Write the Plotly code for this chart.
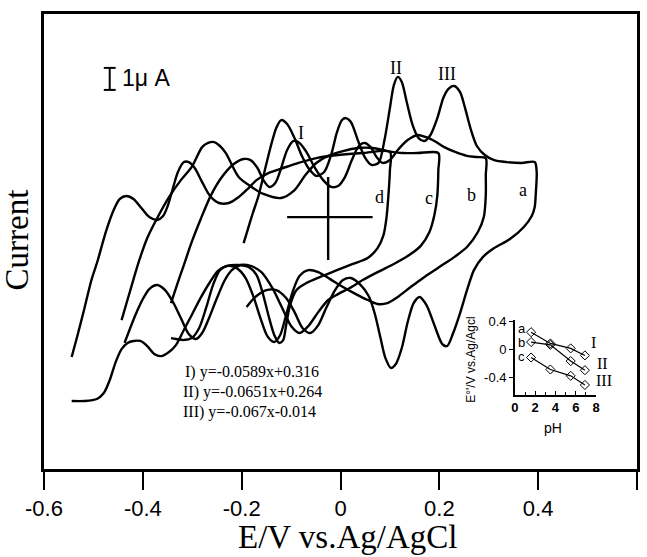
import plotly.graph_objects as go

# ---------------- main CV data (E in V vs Ag/AgCl, I in microampere, offset for clarity) ----
E_a = [-0.196,-0.188,-0.178,-0.166,-0.154,-0.142,-0.130,-0.120,-0.108,-0.093,-0.079,-0.065,-0.049,-0.033,-0.019,-0.007,0.003,0.011,0.021,0.035,0.049,0.063,0.077,0.089,0.100,0.108,0.116,0.124,0.134,0.146,0.158,0.170,0.182,0.196,0.208,0.218,0.230,0.242,0.252,0.264,0.276,0.292,0.311,0.337,0.367,0.393,
       0.397,0.395,0.393,0.387,0.371,0.343,0.311,0.288,0.270,0.256,0.242,0.228,0.216,0.206,0.190,0.174,0.160,0.148,0.136,0.124,0.112,0.102,0.091,0.081,0.069,0.057,0.041,0.021,0.005,-0.011,-0.029,-0.045,-0.061,-0.077,-0.093,-0.110,-0.130,-0.150,-0.170,-0.182,-0.190]
I_a = [2.59,3.18,3.91,4.73,5.82,6.91,7.82,8.18,8.0,7.36,6.59,6.0,5.64,5.82,6.59,7.64,8.18,8.27,8.09,7.27,6.5,6.14,6.23,7.27,8.73,9.77,10.14,9.91,9.0,7.95,7.36,7.23,7.5,8.27,9.18,9.59,9.73,9.45,8.73,7.73,7.0,6.59,6.36,6.27,6.23,6.27,
       5.82,4.77,4.23,3.82,3.32,2.77,2.36,1.95,1.36,0.45,-0.59,-1.5,-2.09,-2.0,-1.14,-0.23,0.14,-0.14,-1.0,-2.18,-2.91,-3.09,-2.64,-1.73,-0.59,0.18,0.68,1.0,0.91,0.45,-0.36,-1.14,-1.5,-1.27,-0.55,0.09,0.45,0.45,0.18,-0.09,-0.32]

E_b = [-0.343,-0.331,-0.317,-0.301,-0.282,-0.262,-0.240,-0.216,-0.196,-0.182,-0.168,-0.156,-0.144,-0.132,-0.120,-0.108,-0.095,-0.083,-0.069,-0.053,-0.035,-0.019,-0.005,0.009,0.023,0.037,0.049,0.061,0.073,0.085,0.100,0.116,0.136,0.156,0.172,0.190,0.210,0.232,0.256,0.276,0.294,
       0.294,0.294,0.290,0.278,0.256,0.230,0.200,0.170,0.142,0.116,0.095,0.075,0.055,0.031,0.005,-0.021,-0.045,-0.065,-0.083,-0.097,-0.110,-0.122,-0.134,-0.148,-0.162,-0.176,-0.192,-0.210,-0.228,-0.244,-0.258,-0.272,-0.286,-0.301,-0.317,-0.333,-0.343]
I_b = [-0.14,0.68,1.59,2.64,3.73,4.77,5.59,6.18,6.41,6.36,6.0,5.45,5.14,5.32,6.0,6.82,7.23,7.14,6.73,6.05,5.45,5.14,5.18,5.59,6.36,7.0,7.14,6.95,6.5,6.23,6.36,6.82,7.27,7.5,7.41,7.23,6.95,6.73,6.55,6.5,6.45,
       5.68,4.77,3.77,3.09,2.41,1.95,1.5,1.05,0.59,0.14,-0.14,-0.18,0.0,0.27,0.59,0.95,1.27,1.36,1.09,0.36,-0.68,-1.59,-1.91,-1.64,-0.82,0.14,1.0,1.45,1.55,1.36,0.68,-0.36,-1.27,-1.73,-1.82,-1.77,-1.73]

E_c = [-0.443,-0.427,-0.407,-0.391,-0.373,-0.347,-0.323,-0.301,-0.280,-0.268,-0.256,-0.244,-0.232,-0.206,-0.180,-0.156,-0.120,-0.093,-0.071,-0.049,-0.025,0.005,0.035,0.065,0.095,0.126,0.156,0.198,
       0.198,0.196,0.190,0.180,0.162,0.136,0.108,0.075,0.045,0.019,-0.005,-0.025,-0.045,-0.065,-0.083,-0.100,-0.118,-0.138,-0.160,-0.182,-0.202,-0.220,-0.234,-0.250,-0.266,-0.280,-0.292,-0.307,-0.323,-0.339,-0.355,-0.371,-0.387,-0.401,-0.415,-0.427,-0.437]
I_c = [-0.91,0.32,1.82,2.82,3.64,4.68,5.45,6.05,6.95,7.14,7.18,7.0,6.68,5.59,5.14,4.82,4.64,5.0,5.68,6.23,6.55,6.77,6.91,6.91,6.77,6.68,6.68,6.68,
       5.91,4.77,3.86,3.09,2.45,2.0,1.64,1.27,0.91,0.55,0.27,0.0,-0.55,-1.18,-1.5,-1.18,-0.36,0.55,1.27,1.55,1.59,1.36,0.91,0.09,-0.82,-1.5,-1.77,-1.55,-0.82,-0.09,0.45,0.68,0.5,0.0,-0.68,-1.36,-1.95]

E_d = [-0.544,-0.532,-0.518,-0.504,-0.491,-0.475,-0.459,-0.447,-0.433,-0.419,-0.403,-0.387,-0.371,-0.359,-0.349,-0.339,-0.329,-0.317,-0.307,-0.295,-0.280,-0.264,-0.246,-0.226,-0.206,-0.186,-0.170,-0.146,-0.116,-0.085,-0.049,-0.005,0.045,0.100,
       0.100,0.097,0.093,0.087,0.075,0.055,0.025,-0.011,-0.041,-0.069,-0.089,-0.102,-0.110,-0.116,-0.124,-0.134,-0.146,-0.158,-0.170,-0.186,-0.206,-0.230,-0.248,-0.264,-0.282,-0.301,-0.317,-0.333,-0.347,-0.363,-0.377,-0.391,-0.405,-0.419,-0.431,-0.443,-0.455,-0.467,-0.479,-0.493,-0.518,-0.544]
I_d = [-2.59,-1.59,-0.36,0.91,1.82,3.09,4.09,4.59,4.73,4.59,4.18,3.77,3.64,3.82,4.32,5.09,5.82,6.27,6.27,6.0,5.36,4.73,4.41,4.41,4.68,5.09,5.45,5.77,6.0,6.23,6.45,6.59,6.68,6.73,
       5.91,4.77,3.73,2.95,2.36,1.91,1.64,1.32,1.05,0.77,0.45,-0.23,-1.14,-1.82,-1.95,-1.59,-0.68,0.36,1.14,1.5,1.59,1.55,1.32,0.82,0.14,-0.68,-1.36,-2.05,-2.36,-2.55,-2.45,-2.09,-1.86,-1.86,-1.95,-2.23,-2.82,-3.64,-4.23,-4.5,-4.59,-4.59]

# scale bar (1 uA) and reference cross
bar_E = [-0.479, -0.455, None, -0.467, -0.467, None, -0.479, -0.455]
bar_I = [10.55, 10.55, None, 10.55, 9.55, None, 9.55, 9.55]
cross_E = [-0.025, -0.025, None, -0.108, 0.065]
cross_I = [5.59, 1.82, None, 3.77, 3.77]

x_ticks = [-0.6, -0.4, -0.2, 0, 0.2, 0.4, 0.6]
x_tick_text = ['-0.6', '-0.4', '-0.2', '0', '0.2', '0.4', '0.6']

curve_labels = ['a', 'b', 'c', 'd']
curve_label_E = [0.369, 0.266, 0.180, 0.079]
curve_label_I = [5.0, 4.77, 4.64, 4.68]
peak_labels = ['I', 'II', 'III']
peak_label_E = [-0.079, 0.112, 0.216]
peak_label_I = [7.59, 10.55, 10.27]

equations = ['I) y=-0.0589x+0.316', 'II) y=-0.0651x+0.264', 'III) y=-0.067x-0.014']
eq_E = [-0.317, -0.321, -0.321]
eq_I = [-3.27, -4.18, -5.09]

# ---------------- inset data ----------------
pH = [1.6, 3.5, 5.5, 6.9]
E0_I = [0.25, 0.09, 0.02, -0.08]
E0_II = [0.11, 0.07, -0.16, -0.29]
E0_III = [-0.11, -0.28, -0.37, -0.50]

SERIF = "Liberation Serif"
SANS = "Liberation Sans"
LW = 2.4

fig = go.Figure()
for E, I in [(E_a, I_a), (E_b, I_b), (E_c, I_c), (E_d, I_d)]:
    fig.add_trace(go.Scatter(x=E, y=I, mode='lines',
                             line=dict(color='black', width=LW, shape='spline', smoothing=0.8),
                             showlegend=False, hoverinfo='skip'))
fig.add_trace(go.Scatter(x=bar_E, y=bar_I, mode='lines', line=dict(color='black', width=2),
                         showlegend=False, hoverinfo='skip'))
fig.add_trace(go.Scatter(x=cross_E, y=cross_I, mode='lines', line=dict(color='black', width=2.4),
                         showlegend=False, hoverinfo='skip'))

for ser in [E0_I, E0_II, E0_III]:
    fig.add_trace(go.Scatter(x=pH, y=ser, mode='lines+markers', xaxis='x2', yaxis='y2',
                             line=dict(color='black', width=1.2),
                             marker=dict(symbol='diamond-open', size=7, color='black', line=dict(width=1)),
                             showlegend=False, hoverinfo='skip'))

ann = []
ann.append(dict(x=-0.447, y=10.1, xref='x', yref='y', text='1μ A', showarrow=False, xanchor='left',
                yanchor='middle', font=dict(family=SANS, size=23, color='black')))
for t, e, i in zip(curve_labels, curve_label_E, curve_label_I):
    ann.append(dict(x=e, y=i, xref='x', yref='y', text=t, showarrow=False,
                    font=dict(family=SERIF, size=18, color='black')))
for t, e, i in zip(peak_labels, peak_label_E, peak_label_I):
    ann.append(dict(x=e, y=i, xref='x', yref='y', text=t, showarrow=False,
                    font=dict(family=SERIF, size=18, color='black')))
for t, e, i in zip(equations, eq_E, eq_I):
    ann.append(dict(x=e, y=i, xref='x', yref='y', text=t, showarrow=False, xanchor='left',
                    yanchor='middle', borderpad=0,
                    font=dict(family=SERIF, size=16, color='black')))
# axis titles
ann.append(dict(x=0.5126, y=-0.1495, xref='paper', yref='paper', text='E/V vs.Ag/AgCl', showarrow=False,
                font=dict(family=SERIF, size=33, color='black'), xanchor='center', yanchor='middle'))
ann.append(dict(x=-0.045, y=0.503, xref='paper', yref='paper', text='Current', showarrow=False,
                textangle=-90, font=dict(family=SERIF, size=33, color='black'),
                xanchor='center', yanchor='middle'))
# inset labels
for t, yp in zip(['a', 'b', 'c'], [0.308, 0.277, 0.247]):
    ann.append(dict(x=0.806, y=yp, xref='paper', yref='paper', text=t, showarrow=False,
                    xanchor='center', yanchor='middle', borderpad=0,
                    font=dict(family=SANS, size=13, color='black')))
for t, xp, yp in zip(['I', 'II', 'III'], [0.926, 0.941, 0.945], [0.277, 0.231, 0.194]):
    ann.append(dict(x=xp, y=yp, xref='paper', yref='paper', text=t, showarrow=False,
                    xanchor='center', yanchor='middle', borderpad=0,
                    font=dict(family=SERIF, size=16, color='black')))
ann.append(dict(x=0.859, y=0.09, xref='paper', yref='paper', text='pH', showarrow=False,
                xanchor='center', yanchor='middle', font=dict(family=SANS, size=14, color='black')))
ann.append(dict(x=0.720, y=0.240, xref='paper', yref='paper', text="E°'/V vs.Ag/Agcl", showarrow=False,
                textangle=-90, xanchor='center', yanchor='middle',
                font=dict(family=SANS, size=12, color='black')))

fig.update_layout(
    width=647, height=557,
    margin=dict(l=44, r=6, t=14, b=88),
    paper_bgcolor='white', plot_bgcolor='white',
    annotations=ann,
    xaxis=dict(range=[-0.6, 0.6], tickvals=x_ticks, ticktext=x_tick_text,
               showline=True, linecolor='black', linewidth=2.5, mirror=True,
               ticks='outside', ticklen=18, tickwidth=1.5, tickcolor='black',
               showgrid=False, zeroline=False,
               tickfont=dict(family=SANS, size=22, color='black')),
    yaxis=dict(range=[-7.68, 13.0], showline=True, linecolor='black', linewidth=2.5, mirror=True,
               showticklabels=False, ticks='', showgrid=False, zeroline=False),
    xaxis2=dict(domain=[0.794, 0.931], anchor='y2', range=[0, 8], tickvals=[0, 2, 4, 6, 8],
                showline=True, linecolor='black', linewidth=1.5, ticks='inside', ticklen=4,
                tickcolor='black', minor=dict(dtick=1, ticks='inside', ticklen=3, tickcolor='black'),
                showgrid=False, zeroline=False,
                tickfont=dict(family=SANS, size=13, color='black', weight='bold')),
    yaxis2=dict(domain=[0.163, 0.327], anchor='x2', range=[-0.64, 0.42], tickvals=[0.4, 0, -0.4],
                ticktext=['0.4', '0', '-0.4'], showline=True, linecolor='black', linewidth=1.5,
                ticks='outside', ticklen=4, tickcolor='black', showgrid=False, zeroline=False,
                tickfont=dict(family=SANS, size=13, color='black')),
)

fig.write_html("out.html")
